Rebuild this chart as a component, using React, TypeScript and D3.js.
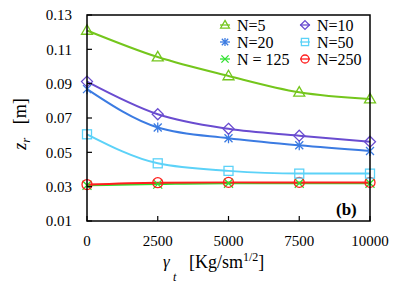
import React from "react";
import * as d3 from "d3";

const xValues = [0, 2500, 5000, 7500, 10000];
const seriesNames = ["N=5", "N=10", "N=20", "N=50", "N = 125", "N=250"];
const seriesColors = ["#74c61c", "#6a4cd0", "#3b7be2", "#5cd2f8", "#2fe02f", "#ff1e1e"];
const seriesMarkers = ["triangle", "diamond", "asterisk", "square", "cross", "circle"];
const n5 = [0.121, 0.1055, 0.0945, 0.085, 0.081];
const n10 = [0.0912, 0.0722, 0.0637, 0.0597, 0.0562];
const n20 = [0.0868, 0.0645, 0.0582, 0.0541, 0.0508];
const n50 = [0.0605, 0.0436, 0.0392, 0.0376, 0.0376];
const n125 = [0.0308, 0.0315, 0.032, 0.032, 0.032];
const n250 = [0.0312, 0.0323, 0.0325, 0.0325, 0.0325];
const seriesValues = [n5, n10, n20, n50, n125, n250];
const yTicks = [0.01, 0.03, 0.05, 0.07, 0.09, 0.11, 0.13];
const xTicks = [0, 2500, 5000, 7500, 10000];

const W = 407, H = 288;
const L = 87, R = 370, T = 15, B = 221;
const fontStyle = { fontFamily: "Liberation Serif, DejaVu Serif, Times New Roman, serif" };

function Marker({ type, x, y, color, s }: { type: string; x: number; y: number; color: string; s: number }) {
  const sw = 1.3;
  if (type === "triangle") {
    const h = s * 0.95;
    return <path d={`M${x},${y - h * 0.6}L${x + s * 0.55},${y + h * 0.4}L${x - s * 0.55},${y + h * 0.4}Z`} fill="none" stroke={color} strokeWidth={sw} />;
  }
  if (type === "diamond") {
    const r = s * 0.55;
    return <path d={`M${x},${y - r}L${x + r},${y}L${x},${y + r}L${x - r},${y}Z`} fill="none" stroke={color} strokeWidth={sw} />;
  }
  if (type === "square") {
    const r = s * 0.45;
    return <rect x={x - r} y={y - r} width={2 * r} height={2 * r} fill="none" stroke={color} strokeWidth={sw} />;
  }
  if (type === "circle") {
    return <circle cx={x} cy={y} r={s * 0.5} fill="none" stroke={color} strokeWidth={sw} />;
  }
  if (type === "asterisk") {
    const r = s * 0.5;
    const d = r * 0.8;
    return (
      <path d={`M${x},${y - r}V${y + r}M${x - d},${y - d}L${x + d},${y + d}M${x - d},${y + d}L${x + d},${y - d}`} stroke={color} strokeWidth={sw} fill="none" />
    );
  }
  const d = s * 0.45;
  return <path d={`M${x - d},${y - d}L${x + d},${y + d}M${x - d},${y + d}L${x + d},${y - d}`} stroke={color} strokeWidth={sw} fill="none" />;
}

export default function App() {
  const x = d3.scaleLinear().domain([0, 10000]).range([L, R]);
  const y = d3.scaleLinear().domain([0.01, 0.13]).range([B, T]);
  const line = d3
    .line<number>()
    .x((_, i) => x(xValues[i]))
    .y((v) => y(v))
    .curve(d3.curveMonotoneX);

  const legendCols = [225, 305];
  const legendRows = [25, 42, 59];

  return (
    <svg width={W} height={H} style={{ position: "absolute", left: 0, top: 0, ...fontStyle }}>
      <rect x={0} y={0} width={W} height={H} fill="#fff" />
      {seriesValues.map((vals, si) => (
        <path key={"l" + si} d={line(vals) || ""} fill="none" stroke={seriesColors[si]} strokeWidth={2} />
      ))}
      {[4, 5, 3, 2, 1, 0].map((si) =>
        seriesValues[si].map((v, i) => (
          <Marker key={"m" + si + "-" + i} type={seriesMarkers[si]} x={x(xValues[i])} y={y(v)} color={seriesColors[si]} s={10} />
        ))
      )}
      <rect x={L} y={T} width={R - L} height={B - T} fill="none" stroke="#000" strokeWidth={1.5} />
      {yTicks.map((t) => (
        <g key={"y" + t}>
          <line x1={L} x2={L + 5} y1={y(t)} y2={y(t)} stroke="#000" strokeWidth={1.2} />
          <text x={72} y={y(t)} dy="0.35em" textAnchor="end" fontSize={15} style={fontStyle}>
            {t.toFixed(2)}
          </text>
        </g>
      ))}
      {xTicks.map((t) => (
        <g key={"x" + t}>
          <line x1={x(t)} x2={x(t)} y1={B} y2={B - 5} stroke="#000" strokeWidth={1.2} />
          <text x={x(t)} y={246} textAnchor="middle" fontSize={15} style={fontStyle}>
            {t}
          </text>
        </g>
      ))}
      <text x={163} y={267} fontSize={17} fontStyle="italic" style={fontStyle}>
        γ
      </text>
      <text x={173} y={281} fontSize={12} fontStyle="italic" style={fontStyle}>
        t
      </text>
      <text x={189} y={268} fontSize={18} style={fontStyle}>
        [Kg/sm
        <tspan dy={-7} fontSize={12}>1/2</tspan>
        <tspan dy={7}>]</tspan>
      </text>
      <g transform="translate(26,124) rotate(-90)">
        <text x={0} y={0} textAnchor="middle" fontSize={18} style={fontStyle}>
          <tspan fontStyle="italic">z</tspan>
          <tspan fontStyle="italic" fontSize={13} dy={4}>r</tspan>
          <tspan dy={-4}>{"\u00a0\u00a0\u00a0[m]"}</tspan>
        </text>
      </g>
      <text x={336} y={215} fontSize={17} fontWeight="bold" style={fontStyle}>
        (b)
      </text>
      {seriesNames.map((name, si) => {
        const cx = legendCols[si % 2];
        const cy = legendRows[Math.floor(si / 2)];
        return (
          <g key={"lg" + si}>
            <line x1={cx - 5} x2={cx + 5} y1={cy} y2={cy} stroke={seriesColors[si]} strokeWidth={1.3} />
            <Marker type={seriesMarkers[si]} x={cx} y={cy} color={seriesColors[si]} s={8} />
            <text x={cx + 12} y={cy} dy="0.35em" fontSize={16} style={fontStyle}>
              {name}
            </text>
          </g>
        );
      })}
    </svg>
  );
}
